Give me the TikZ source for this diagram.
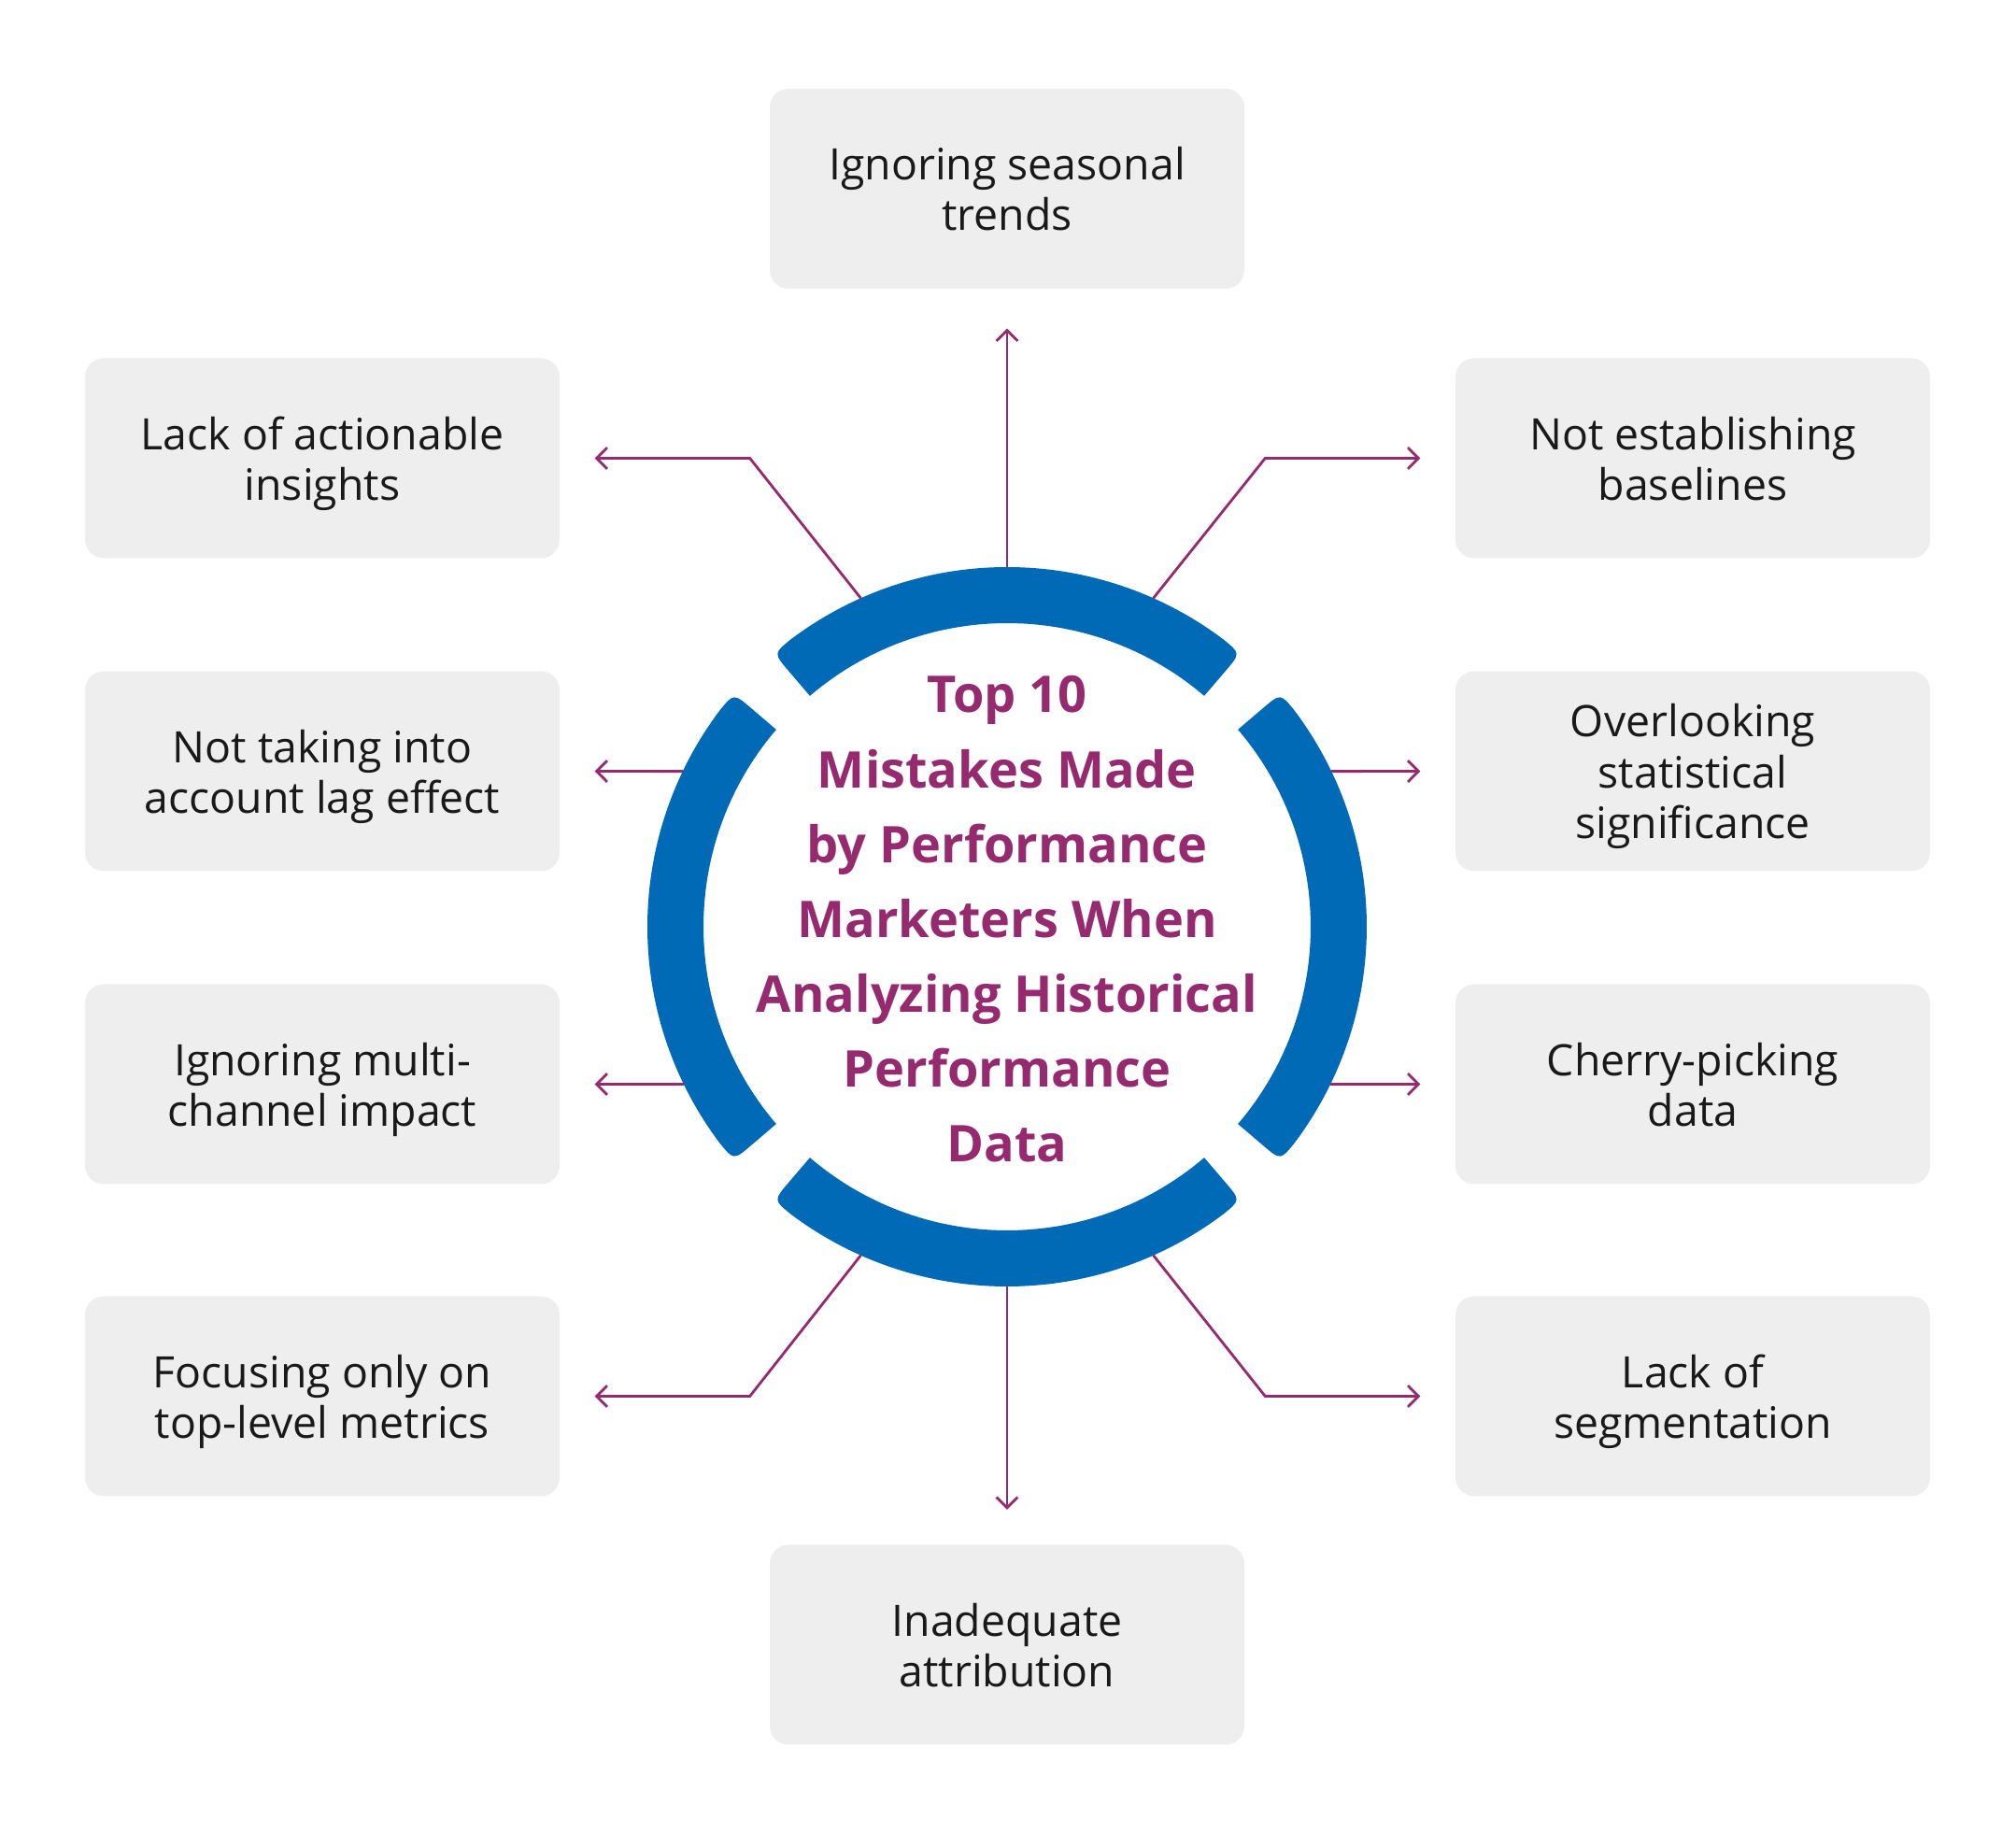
\documentclass[tikz,border=0pt]{standalone}
\usepackage{fontspec}
\setmainfont{Open Sans}
\usepackage{tikz}
\usetikzlibrary{positioning,arrows.meta,calc}
\definecolor{ringblue}{HTML}{006AB7}
\definecolor{mkpurple}{HTML}{962A6E}
\definecolor{cardgray}{HTML}{EEEEEE}

\begin{document}
\begin{tikzpicture}[
  card/.style={rectangle, rounded corners=2mm, fill=cardgray, minimum width=5.08cm, minimum height=2.14cm, align=center, text=black!90, font=\fontsize{13.2}{15.4}\selectfont, text depth=0pt},
  link/.style={-{Straight Barb[length=3.2pt,width=6.5pt]}, draw=mkpurple, line width=0.8pt},
  arcfill/.style={fill=ringblue}
]
  \useasboundingbox (0,0) rectangle (21.58,19.62);

  % Cards
  \node[card] (seasonal) at (10.78,17.60) {Ignoring seasonal\\trends};
  \node[card] (insights) at (3.45,14.715) {Lack of actionable\\insights};
  \node[card] (lag) at (3.45,11.365) {Not taking into\\account lag effect};
  \node[card] (multi) at (3.45,8.015) {Ignoring multi-\\channel impact};
  \node[card] (toplevel) at (3.45,4.675) {Focusing only on\\top-level metrics};
  \node[card] (baselines) at (18.12,14.715) {Not establishing\\baselines};
  \node[card] (stats) at (18.12,11.365) {Overlooking\\statistical\\significance};
  \node[card] (cherry) at (18.12,8.015) {Cherry-picking\\data};
  \node[card] (segment) at (18.12,4.675) {Lack of\\segmentation};
  \node[card] (attrib) at (10.78,2.015) {Inadequate\\attribution};

  % Ring
  \node[circle, minimum size=7.7cm, inner sep=0pt, outer sep=0pt] (ring) at (10.78,9.70) {};
  \begin{scope}[shift={(ring.center)}]
    \foreach \a in {49.5,139.5,229.5,319.5} {
      \pgfmathsetmacro{\b}{\a+81}
      \pgfmathsetmacro{\ai}{\a+3.7}
      \pgfmathsetmacro{\bi}{\b-3.7}
      \fill[arcfill] (\a:3.25) -- (\a:3.60) .. controls (\a:3.85) .. (\ai:3.85)
        arc[start angle=\ai, end angle=\bi, radius=3.85]
        .. controls (\b:3.85) .. (\b:3.60) -- (\b:3.25)
        arc[start angle=\b, end angle=\a, radius=3.25] -- cycle;
    }
  \end{scope}
  \node[font=\bfseries\fontsize{15.4}{22.8}\selectfont, text=mkpurple, align=center] (title) at ([yshift=0.8mm]ring.center)
    {Top 10\\Mistakes Made\\by Performance\\Marketers When\\Analyzing Historical\\Performance\\Data};

  % Connectors
  \draw[link] (ring.90) -- ([yshift=-4.2mm]seasonal.south);
  \draw[link] (ring.270) -- ([yshift=3.7mm]attrib.north);
  \draw[link] (ring.114) -- ([xshift=20.3mm]insights.east) -- ([xshift=3.7mm]insights.east);
  \draw[link] (ring.66) -- ([xshift=-20.3mm]baselines.west) -- ([xshift=-3.7mm]baselines.west);
  \draw[link] ($(ring.center)+(154.4:3.85)$) -- ([xshift=3.7mm]lag.east);
  \draw[link] ($(ring.center)+(25.6:3.85)$) -- ([xshift=-3.7mm]stats.west);
  \draw[link] ($(ring.center)+(205.96:3.85)$) -- ([xshift=3.7mm]multi.east);
  \draw[link] ($(ring.center)+(334.04:3.85)$) -- ([xshift=-3.7mm]cherry.west);
  \draw[link] (ring.246) -- ([xshift=20.3mm]toplevel.east) -- ([xshift=3.7mm]toplevel.east);
  \draw[link] (ring.294) -- ([xshift=-20.3mm]segment.west) -- ([xshift=-3.7mm]segment.west);
\end{tikzpicture}
\end{document}
